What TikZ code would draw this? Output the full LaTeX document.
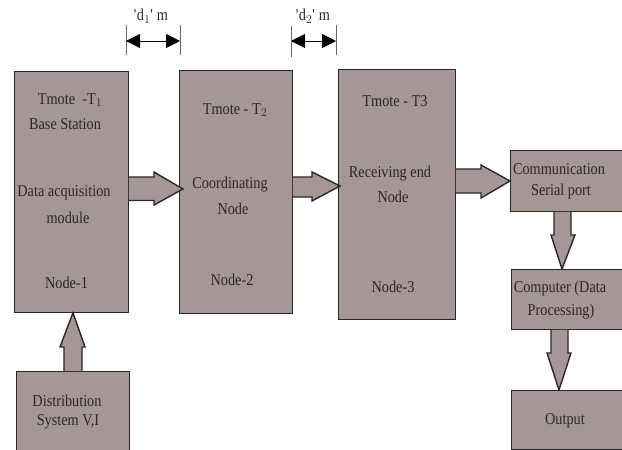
\documentclass[tikz,border=0pt]{standalone}
\usepackage{fontspec}
\setmainfont[FakeStretch=0.86]{Liberation Serif}
\usetikzlibrary{arrows.meta,calc}
\definecolor{boxfill}{HTML}{A59795}
\definecolor{inkdark}{HTML}{2B2729}
\tikzset{
  blockbox/.style={draw=inkdark,line width=0.8pt,fill=boxfill,inner sep=0pt,anchor=north west},
  lbl/.style={inner sep=0pt,text=inkdark,font=\fontsize{16.6}{18}\selectfont},
  blockarrow/.style={draw=inkdark,line width=1.4pt,fill=boxfill,line join=miter,miter limit=3},
  dimline/.style={draw=black!60,line width=0.7pt},
  dimarrow/.style={draw=black,line width=0.9pt,{Triangle[length=14pt,width=14pt]}-{Triangle[length=14pt,width=14pt]}}
}
\begin{document}
\begin{tikzpicture}[x=1pt,y=-1pt]
\useasboundingbox (0,0) rectangle (622,450);
% boxes
\node[blockbox,minimum width=114pt,minimum height=241pt] (n1) at (14,71) {};
\node[blockbox,minimum width=113pt,minimum height=243pt] (n2) at (179,70) {};
\node[blockbox,minimum width=117pt,minimum height=250pt] (n3) at (338,69) {};
\node[blockbox,minimum width=113pt,minimum height=61pt] (comm) at (510,150) {};
\node[blockbox,minimum width=112pt,minimum height=60pt] (comp) at (511,269) {};
\node[blockbox,minimum width=112pt,minimum height=59pt] (out) at (511,390) {};
\node[blockbox,minimum width=113pt,minimum height=80pt] (dist) at (16,371) {};
% block arrows
\draw[blockarrow] (n1.east |- 0,177) -- (154,177) -- (154,172) -- (183,189) -- (154,205) -- (154,200.5) -- (n1.east |- 0,200.5);
\draw[blockarrow] (n2.east |- 0,177) -- (312,177) -- (312,172) -- (340,186) -- (312,201) -- (312,197) -- (n2.east |- 0,197);
\draw[blockarrow] (n3.east |- 0,169) -- (481,169) -- (481,165) -- (comm.west |- 0,181) -- (481,198) -- (481,193) -- (n3.east |- 0,193);
\draw[blockarrow] (554,0 |- comm.south) -- (554,235) -- (551,235) -- (562,0 |- comp.north) -- (575,235) -- (571,235) -- (571,0 |- comm.south);
\draw[blockarrow] (551,0 |- comp.south) -- (551,353) -- (547,353) -- (559,0 |- out.north) -- (571,353) -- (568,353) -- (568,0 |- comp.south);
\draw[blockarrow] (64,0 |- dist.north) -- (64,347) -- (60,347) -- (73,0 |- n1.south) -- (85,347) -- (82,347) -- (82,0 |- dist.north);
% dimension marks
\coordinate (d1a) at (126,41); \coordinate (d1b) at (180,41);
\coordinate (d2a) at (291,41); \coordinate (d2b) at (336,41);
\draw[dimline] (126,25) -- (126,55);
\draw[dimline] (180,25) -- (180,55);
\draw[dimline] (291,26) -- (291,57);
\draw[dimline] (336,25) -- (336,55);
\draw[dimarrow] (d1a) -- (d1b);
\draw[dimarrow] (d2a) -- (d2b);
\node[lbl] (ld1) at (151,16) {\textquotesingle d$_1$\textquotesingle\ m};
\node[lbl] (ld2) at (313,16) {\textquotesingle d$_2$\textquotesingle\ m};
% texts
\node[lbl] (t1a) at (70,100) {Tmote\ \ -T$_1$};
\node[lbl] (t1b) at (65,124) {Base Station};
\node[lbl] (t1c) at (64,193) {Data acquisition};
\node[lbl] (t1d) at (68,218) {module};
\node[lbl] (t1e) at (66.5,283) {Node-1};
\node[lbl] (t2a) at (235,110) {Tmote\ - T$_2$};
\node[lbl] (t2b) at (230,185) {Coordinating};
\node[lbl] (t2c) at (233,209) {Node};
\node[lbl] (t2d) at (232,280) {Node-2};
\node[lbl] (t3a) at (395,101) {Tmote\ - T3};
\node[lbl] (t3b) at (390,174) {Receiving end};
\node[lbl] (t3c) at (393,197) {Node};
\node[lbl] (t3d) at (393,287) {Node-3};
\node[lbl] (c1) at (559,169) {Communication};
\node[lbl] (c2) at (561,192) {Serial port};
\node[lbl] (p1) at (560,289) {Computer (Data};
\node[lbl] (p2) at (561,312) {Processing)};
\node[lbl] (o1) at (565,421) {Output};
\node[lbl] (s1) at (67,401) {Distribution};
\node[lbl] (s2) at (68,422) {System V,I};
\end{tikzpicture}
\end{document}
